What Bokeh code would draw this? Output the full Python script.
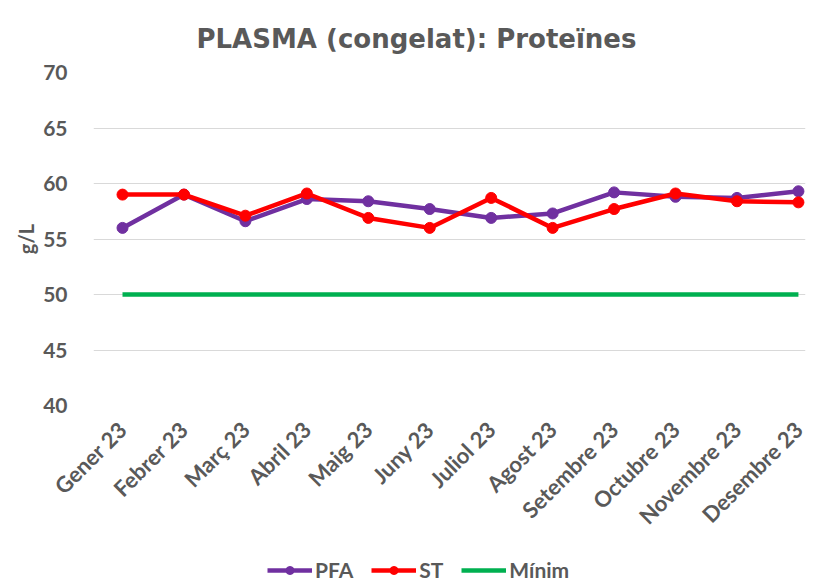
from bokeh.plotting import figure
from bokeh.layouts import column
from bokeh.models import Legend, LegendItem, Range1d, FixedTicker
from bokeh.embed import file_html
from bokeh.resources import INLINE

months = ["Gener 23", "Febrer 23", "Març 23", "Abril 23", "Maig 23", "Juny 23",
          "Juliol 23", "Agost 23", "Setembre 23", "Octubre 23", "Novembre 23", "Desembre 23"]
pfa = [56.0, 59.0, 56.6, 58.6, 58.4, 57.7, 56.9, 57.3, 59.2, 58.8, 58.7, 59.3]
st = [59.0, 59.0, 57.1, 59.1, 56.9, 56.0, 58.7, 56.0, 57.7, 59.1, 58.4, 58.3]
minim = [50] * 12
y_ticks = [40, 45, 50, 55, 60, 65, 70]

GREY = "#595959"
xs = list(range(len(months)))

p = figure(width=810, height=550, output_backend="svg",
           toolbar_location=None, title="PLASMA (congelat): Proteïnes")
p.x_range = Range1d(-0.472, 11.115)
p.y_range = Range1d(40, 70)
p.min_border_left = 93
p.min_border_right = 5
p.min_border_top = 72
p.min_border_bottom = 145

p.title.align = "left"
p.title.offset = 103
p.title.vertical_align = "bottom"
p.title.text_font = "DejaVu Sans"
p.title.text_font_size = "26px"
p.title.text_font_style = "bold"
p.title.text_color = GREY
p.title.standoff = 38

r_min = p.line(xs, minim, line_color="#00B050", line_width=4.5)
r_pfa = p.line(xs, pfa, line_color="#7030A0", line_width=4.5)
c_pfa = p.scatter(xs, pfa, size=11, fill_color="#7030A0", line_color="#7030A0")
r_st = p.line(xs, st, line_color="#FF0000", line_width=4.5)
c_st = p.scatter(xs, st, size=11, fill_color="#FF0000", line_color="#FF0000")

p.xaxis.ticker = FixedTicker(ticks=xs)
p.xaxis.major_label_overrides = {i: m for i, m in enumerate(months)}
p.yaxis.ticker = FixedTicker(ticks=y_ticks)
p.yaxis.axis_label = "g/L"
p.yaxis.axis_label_text_font = "Lato"
p.yaxis.axis_label_text_font_size = "20px"
p.yaxis.axis_label_text_font_style = "bold"
p.yaxis.axis_label_text_color = GREY
p.yaxis.axis_label_standoff = 2

for ax in (p.xaxis[0], p.yaxis[0]):
    ax.axis_line_color = None
    ax.major_tick_line_color = None
    ax.minor_tick_line_color = None
    ax.major_label_text_font = "Lato"
    ax.major_label_text_font_size = "22px"
    ax.major_label_text_font_style = "bold"
    ax.major_label_text_color = GREY
p.yaxis.major_label_text_font_size = "21px"
p.yaxis.major_label_standoff = 20
p.xaxis.major_label_orientation = 0.785
p.xaxis.major_label_standoff = 14

p.xgrid.grid_line_color = None
p.ygrid.grid_line_color = "#D9D9D9"
p.ygrid.grid_line_width = 1
p.outline_line_color = None

# legend strip below the chart (series drawn out of its visible range)
lf = figure(width=810, height=32, output_backend="svg", toolbar_location=None,
            x_axis_type=None, y_axis_type=None, min_border=0,
            x_range=Range1d(0, 1), y_range=Range1d(0, 1))
lf.outline_line_color = None
lf.background_fill_alpha = 0
l_pfa = lf.line(xs, pfa, line_color="#7030A0", line_width=4.5)
lc_pfa = lf.scatter(xs, pfa, size=11, fill_color="#7030A0", line_color="#7030A0")
l_st = lf.line(xs, st, line_color="#FF0000", line_width=4.5)
lc_st = lf.scatter(xs, st, size=11, fill_color="#FF0000", line_color="#FF0000")
l_min = lf.line(xs, minim, line_color="#00B050", line_width=4.5)

legend = Legend(items=[
    LegendItem(label="PFA", renderers=[l_pfa, lc_pfa]),
    LegendItem(label="ST", renderers=[l_st, lc_st]),
    LegendItem(label="Mínim", renderers=[l_min]),
], orientation="horizontal", location=(174, 0))
legend.label_text_font = "Lato"
legend.label_text_font_size = "21px"
legend.label_text_font_style = "bold"
legend.label_text_color = GREY
legend.border_line_color = None
legend.background_fill_alpha = 0
legend.glyph_width = 45
legend.spacing = 18
legend.label_standoff = 3
legend.padding = 0
legend.margin = 0
lf.add_layout(legend, "center")

layout = column(p, lf)
open("out.html", "w").write(file_html(layout, INLINE))
